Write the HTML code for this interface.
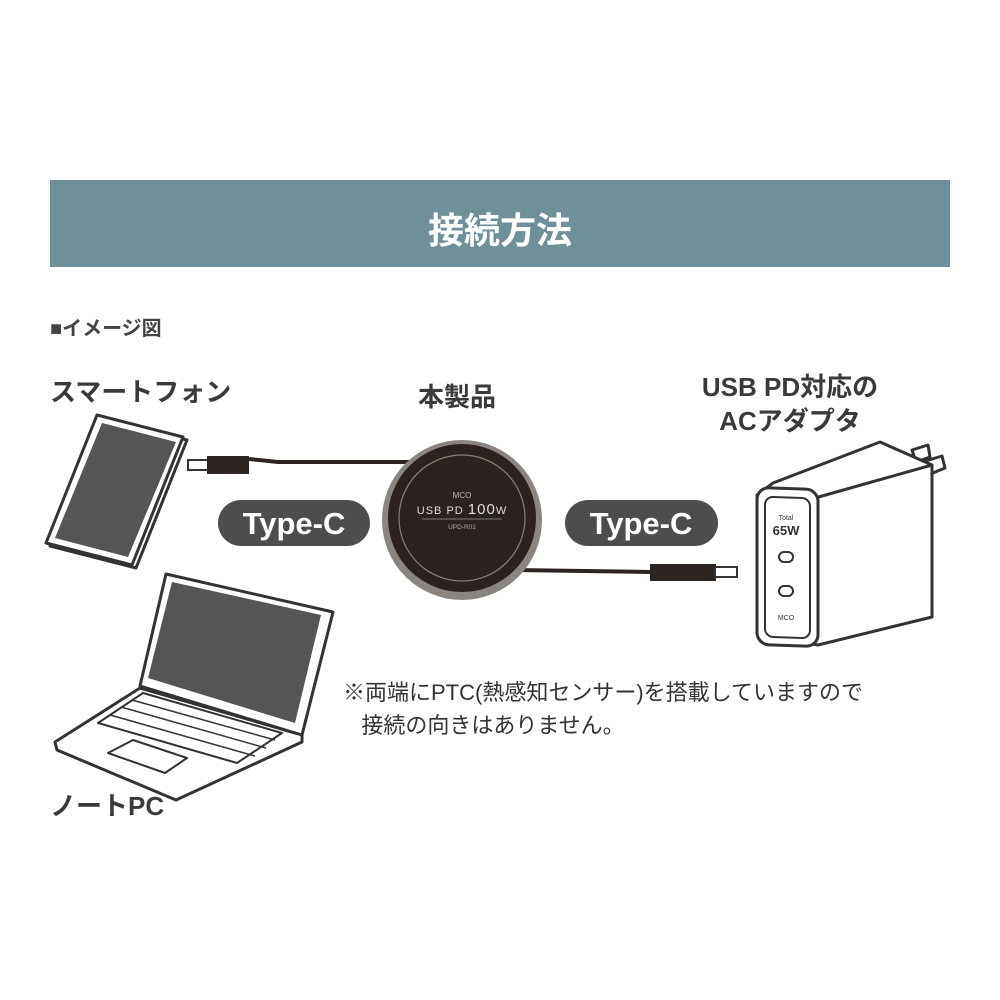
<!DOCTYPE html>
<html><head><meta charset="utf-8"><style>
body{margin:0;width:1000px;height:1000px;background:#fff;position:relative;overflow:hidden;font-family:"Liberation Sans","Noto Sans CJK JP",sans-serif;color:#3a3a3a}
.t{position:absolute;font-weight:bold;white-space:nowrap}
</style></head><body>
<div style="position:absolute;left:50px;top:180px;width:900px;height:87px;background:#6f8f99"></div>
<div class="t" style="left:0;width:1000px;text-align:center;top:202px;font-size:36px;color:#fff">接続方法</div>
<div class="t" style="left:50px;top:312px;font-size:20px;color:#444">■イメージ図</div>
<div class="t" style="left:50px;top:372px;font-size:26px">スマートフォン</div>
<div class="t" style="left:418px;top:377px;font-size:26px">本製品</div>
<div class="t" style="left:690px;top:370px;width:200px;text-align:center;font-size:26px;line-height:34px">USB PD対応の<br>ACアダプタ</div>
<div class="t" style="left:50px;top:786px;font-size:26px">ノートPC</div>
<div class="t" style="left:343px;top:676px;font-size:22px;font-weight:normal;color:#333;line-height:33px">※両端にPTC(熱感知センサー)を搭載していますので<br>&nbsp;&nbsp;&nbsp;接続の向きはありません。</div>
<svg width="1000" height="1000" style="position:absolute;left:0;top:0">
<!-- phone -->
<g stroke="#333" stroke-width="3" fill="#fff" stroke-linejoin="round">
<path d="M101 418 L187 440 L136 568 L50 546 Z"/>
<path d="M97 415 L183 437 L132 565 L46 543 Z"/>
<path d="M102 423 L176 442 L128 557 L55 538 Z" fill="#555" stroke="none"/>
</g>
<!-- left cable -->
<rect x="188" y="460" width="20" height="10" fill="#fff" stroke="#333" stroke-width="2"/>
<rect x="207" y="456" width="42" height="18" fill="#2d2522"/>
<path d="M249 459 L278 462 L412 462" stroke="#2d2522" stroke-width="4" fill="none"/>
<!-- right cable -->
<path d="M515 570 L650 572" stroke="#2d2522" stroke-width="4" fill="none"/>
<rect x="650" y="564" width="66" height="17" fill="#2d2522"/>
<rect x="715" y="567" width="22" height="10" fill="#fff" stroke="#333" stroke-width="2"/>
<!-- product -->
<circle cx="462" cy="520" r="80" fill="#8a8580"/>
<circle cx="462" cy="518" r="74" fill="#2b2220"/>
<circle cx="462" cy="518" r="63" fill="none" stroke="#8a7d75" stroke-width="1.2"/>
<text x="462" y="498" fill="#bbb" font-size="8" text-anchor="middle" font-family="Liberation Sans">MCO</text>
<text x="462" y="514" fill="#ddd" font-size="11" text-anchor="middle" font-family="Liberation Sans" letter-spacing="1">USB PD <tspan font-size="15">100</tspan>W</text>
<line x1="422" y1="519" x2="502" y2="519" stroke="#999" stroke-width="0.8"/>
<text x="462" y="529" fill="#aaa" font-size="6.5" text-anchor="middle" font-family="Liberation Sans">UPD-R01</text>
<!-- pills -->
<rect x="218" y="500" width="152" height="46" rx="23" fill="#4d4d4d"/>
<text x="294" y="534" fill="#fff" font-size="31" font-weight="bold" text-anchor="middle" font-family="Liberation Sans">Type-C</text>
<rect x="565" y="500" width="153" height="46" rx="23" fill="#4d4d4d"/>
<text x="641" y="534" fill="#fff" font-size="31" font-weight="bold" text-anchor="middle" font-family="Liberation Sans">Type-C</text>
<!-- adapter -->
<g stroke="#333" stroke-width="3" fill="#fff" stroke-linejoin="round">
<path d="M912 450 L928 445 L930 457 L916 462 Z"/>
<path d="M922 462 L942 456 L945 468 L928 475 Z"/>
<path d="M773 483 L880 442 L932 465 L932 617 L818 645 L760 635 L757 495 Z"/>
<path d="M815 498 L932 465" fill="none"/>
<rect x="757" y="488" width="61" height="157" rx="12" transform="skewY(2) translate(0,-27)"/>
<rect x="765" y="497" width="45" height="140" rx="8" stroke-width="2" transform="skewY(2) translate(0,-27)"/>
</g>
<text x="786" y="520" font-size="7" text-anchor="middle" fill="#333">Total</text>
<text x="786" y="535" font-size="13" font-weight="bold" text-anchor="middle" fill="#333">65W</text>
<rect x="779" y="552" width="14" height="10" rx="5" fill="none" stroke="#333" stroke-width="2"/>
<rect x="779" y="586" width="14" height="10" rx="5" fill="none" stroke="#333" stroke-width="2"/>
<text x="786" y="620" font-size="7" text-anchor="middle" fill="#333">MCO</text>
<!-- laptop -->
<g stroke="#333" stroke-width="3" fill="#fff" stroke-linejoin="round">
<path d="M55 742 L140 688 L302 735 L176 794 Z"/>
<path d="M55 742 L57 750 L176 800 L302 742 L302 735"/>
<path d="M166 574 L333 612 L302 735 L140 686 Z"/>
<path d="M172 582 L321 615 L295 723 L148 678 Z" fill="#555" stroke="none"/>
<path d="M98 723 L143 693 L282 733 L237 763 Z" fill="#fff" stroke-width="2"/>
<path d="M108 753 L133 740 L187 758 L165 773 Z" fill="#fff" stroke-width="2"/>
</g>
<g stroke="#333" stroke-width="1.5">
<line x1="110" y1="715" x2="255" y2="756"/><line x1="121" y1="707" x2="266" y2="748"/><line x1="132" y1="700" x2="275" y2="740"/>
</g>
</svg>
</body></html>
